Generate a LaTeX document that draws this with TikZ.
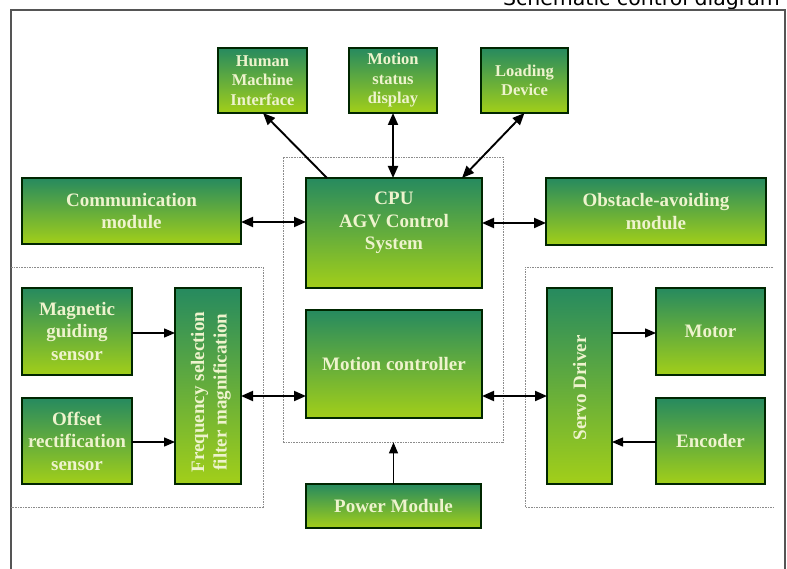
\documentclass[tikz,border=0pt]{standalone}
\usepackage{fontspec}
\setmainfont{Liberation Serif}
\newfontfamily\titlefont{DejaVu Sans}
\usetikzlibrary{arrows.meta}
\definecolor{gtop}{RGB}{38,138,95}
\definecolor{gbot}{RGB}{162,207,25}
\definecolor{txtc}{RGB}{238,243,205}
\definecolor{dashc}{RGB}{140,140,140}
\definecolor{framec}{RGB}{85,85,85}
\tikzset{
  gbox/.style={draw=black!85!green, line width=1.4pt, top color=gtop, bottom color=gbot,
    inner sep=0pt, outer sep=0pt, text=txtc, align=center,
    font=\fontsize{19}{22.5}\selectfont\bfseries},
  gsmall/.style={gbox, font=\fontsize{16.5}{19.5}\selectfont\bfseries},
  btxt/.style={text=txtc, align=center, inner sep=0pt, font=\fontsize{19}{22.5}\selectfont\bfseries},
  dbl/.style={line width=1.9pt, {Triangle[length=12pt,width=10pt]}-{Triangle[length=12pt,width=10pt]}},
  sgl/.style={line width=1.9pt, -{Triangle[length=12pt,width=10pt]}},
  thin/.style={line width=1.3pt, -{Triangle[length=11pt,width=9pt]}},
  dbox/.style={draw=dashc, line width=0.8pt, dash pattern=on 1.6pt off 1pt},
}
\begin{document}
\begin{tikzpicture}[x=1pt,y=-1pt]
\clip (0,0) rectangle (787,569);
\fill[white] (0,0) rectangle (787,569);
% title and frame
\node[anchor=base east, inner sep=0pt, font=\titlefont\fontsize{20.5}{24}\selectfont, text=black] (title) at (780,6) {Schematic control diagram};
\draw[framec, line width=1.6pt] (11,600) -- (11,10) -- (785,10) -- (785,600);
% dashed regions
\node[dbox, minimum width=220pt, minimum height=285pt, inner sep=0pt] (cbox) at (393,299.5) {};
\draw[dbox] (11,267) -- (263,267) -- (263,507) -- (11,507);
\draw[dbox] (773,267) -- (525,267) -- (525,507) -- (773,507);
% top boxes
\node[gsmall, minimum width=89pt, minimum height=65pt] (hmi) at (262.5,80.5) {Human\\Machine\\Interface};
\node[gsmall, minimum width=88pt, minimum height=65pt] (msd) at (393,80.5) {Motion\\status\\display};
\node[gsmall, minimum width=87pt, minimum height=65pt] (ld) at (524.5,80.5) {Loading\\Device};
% middle row
\node[gbox, minimum width=219pt, minimum height=66pt] (comm) at (131.5,211) {Communication\\module};
\node[gbox, minimum width=176pt, minimum height=110pt] (cpu) at (394,233) {};
\node[btxt] (cputxt) at (394,223) {CPU\\AGV Control\\System};
\node[gbox, minimum width=220pt, minimum height=67pt] (obs) at (656,211.5) {Obstacle-avoiding\\module};
% left group
\node[gbox, minimum width=110pt, minimum height=87pt] (mag) at (77,331.5) {Magnetic\\guiding\\sensor};
\node[gbox, minimum width=110pt, minimum height=86pt] (off) at (77,441) {Offset\\rectification\\sensor};
\node[gbox, minimum width=66pt, minimum height=196pt] (freq) at (208,386) {};
\node[btxt, rotate=90] (freqtxt) at (211,392) {Frequency selection\\filter magnification};
% motion controller
\node[gbox, minimum width=176pt, minimum height=108pt] (mc) at (394,364) {Motion controller};
% right group
\node[gbox, minimum width=65pt, minimum height=196pt] (servo) at (579.5,386) {};
\node[btxt, rotate=90] (servotxt) at (579.5,388) {Servo Driver};
\node[gbox, minimum width=109pt, minimum height=87pt] (motor) at (710.5,331.5) {Motor};
\node[gbox, minimum width=109pt, minimum height=86pt] (enc) at (710.5,441) {Encoder};
% power
\node[gbox, minimum width=175pt, minimum height=44pt] (power) at (393.5,506) {Power Module};
% connectors
\draw[sgl] ([xshift=21pt]cpu.north west) -- ([xshift=45pt]hmi.south west);
\draw[dbl] (msd.south) -- (msd.south |- cpu.north);
\draw[dbl] (ld.south) -- ([xshift=-20pt]cpu.north east);
\draw[dbl] ([yshift=-11pt]comm.east) -- ([yshift=-11pt]comm.east -| cpu.west);
\draw[dbl] ([yshift=-11.5pt]obs.west) -- ([yshift=-11.5pt]obs.west -| cpu.east);
\draw[dbl] ([yshift=-10pt]freq.east) -- ([yshift=-10pt]freq.east -| mc.west);
\draw[dbl] ([yshift=-10pt]servo.west) -- ([yshift=-10pt]servo.west -| mc.east);
\draw[thin] ([yshift=-1.5pt]mag.east) -- ([yshift=-1.5pt]mag.east -| freq.west);
\draw[thin] ([yshift=-1pt]off.east) -- ([yshift=-1pt]off.east -| freq.west);
\draw[thin] ([yshift=-1.5pt]motor.west -| servo.east) -- ([yshift=-1.5pt]motor.west);
\draw[thin] ([yshift=-1pt]enc.west) -- ([yshift=-1pt]enc.west -| servo.east);
\draw[thin] (power.north) -- (power.north |- cbox.south);
\end{tikzpicture}
\end{document}
